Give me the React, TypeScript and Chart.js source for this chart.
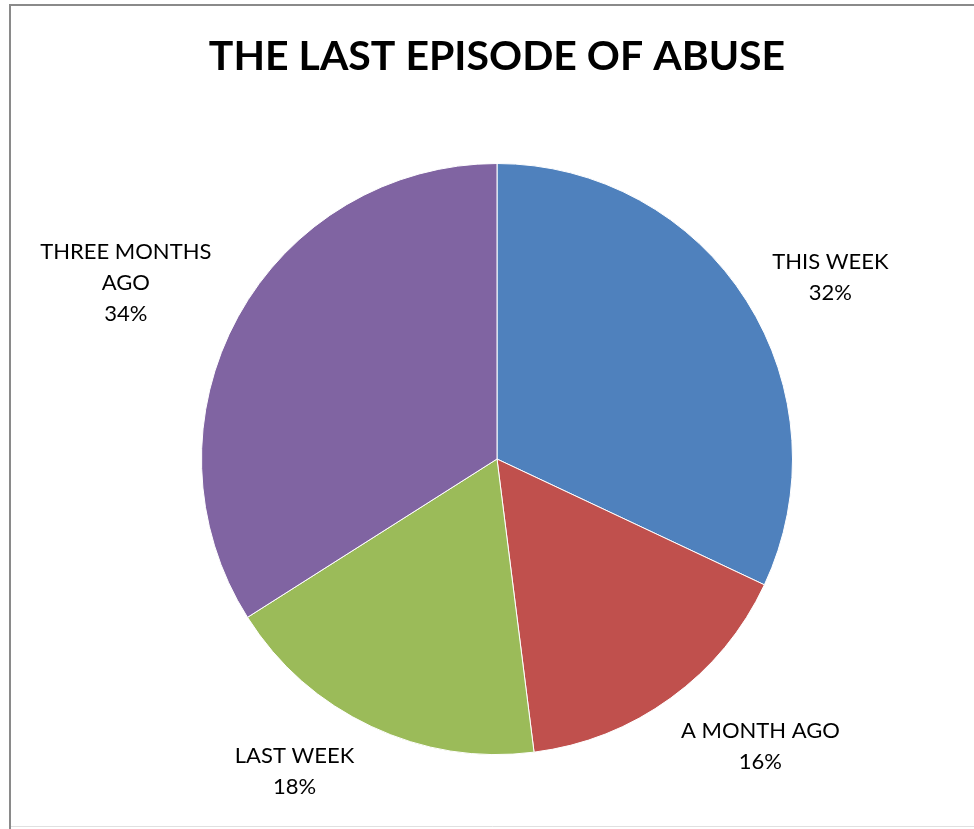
import React, { useEffect, useRef } from "react";
import { Chart, registerables } from "chart.js";

Chart.register(...registerables);

const TITLE = "THE LAST EPISODE OF ABUSE";
const categories = ["THIS WEEK", "A MONTH AGO", "LAST WEEK", "THREE MONTHS AGO"];
const labelLines = [["THIS WEEK"], ["A MONTH AGO"], ["LAST WEEK"], ["THREE MONTHS", "AGO"]];
const values = [32, 16, 18, 34];
const colors = ["#4F81BD", "#C0504D", "#9BBB59", "#8064A2"];

const FONT = "Lato, 'Open Sans', sans-serif";

const framePlugin = {
  id: "frame",
  beforeDraw(chart: any) {
    const ctx = chart.ctx;
    const w = chart.width;
    const h = chart.height;
    ctx.save();
    ctx.fillStyle = "#ffffff";
    ctx.fillRect(0, 0, w, h);
    ctx.strokeStyle = "#8a8a8a";
    ctx.lineWidth = 2;
    ctx.beginPath();
    ctx.moveTo(10, h);
    ctx.lineTo(10, 5);
    ctx.lineTo(w, 5);
    ctx.stroke();
    ctx.strokeStyle = "#e0e0e0";
    ctx.lineWidth = 1;
    ctx.beginPath();
    ctx.moveTo(11, 826.5);
    ctx.lineTo(w, 826.5);
    ctx.stroke();
    ctx.restore();
  },
  afterDraw(chart: any) {
    const ctx = chart.ctx;
    const meta = chart.getDatasetMeta(0);
    const area = chart.chartArea;
    const cx = (area.left + area.right) / 2;
    // Title
    ctx.save();
    ctx.fillStyle = "#000000";
    ctx.textAlign = "center";
    ctx.textBaseline = "alphabetic";
    ctx.font = `bold 41px ${FONT}`;
    ctx.fillText(TITLE, cx, 70);
    ctx.restore();

    // Data labels (best-fit outside, pulled toward the horizontal)
    const total = values.reduce((a, b) => a + b, 0);
    const lineH = 31;
    const gap = 18;
    const pull = 0.88;
    ctx.save();
    ctx.font = `22px ${FONT}`;
    ctx.fillStyle = "#000000";
    ctx.textAlign = "center";
    ctx.textBaseline = "middle";
    meta.data.forEach((arc: any, i: number) => {
      const { x, y, startAngle, endAngle, outerRadius } = arc.getProps(
        ["x", "y", "startAngle", "endAngle", "outerRadius"],
        true
      );
      let mid = (startAngle + endAngle) / 2;
      // normalise to [-PI/2, 3PI/2): horizontal at 0 (right) and PI (left)
      const horiz = Math.cos(mid) >= 0 ? 0 : Math.PI;
      let delta = mid - horiz;
      while (delta > Math.PI) delta -= 2 * Math.PI;
      while (delta < -Math.PI) delta += 2 * Math.PI;
      mid = horiz + delta * pull;
      const ux = Math.cos(mid);
      const uy = Math.sin(mid);
      const lines = [...labelLines[i], `${Math.round((values[i] / total) * 100)}%`];
      const bw = Math.max(...lines.map((l) => ctx.measureText(l).width));
      const bh = lines.length * lineH;
      const support = (bw / 2) * Math.abs(ux) + (bh / 2) * Math.abs(uy);
      const d = outerRadius + gap + support;
      const lx = x + ux * d;
      const ly = y + uy * d;
      lines.forEach((l, k) => {
        ctx.fillText(l, lx, ly - bh / 2 + lineH / 2 + k * lineH);
      });
    });
    ctx.restore();
  },
};

export default function App() {
  const ref = useRef<HTMLCanvasElement | null>(null);
  useEffect(() => {
    if (!ref.current) return;
    const chart = new Chart(ref.current, {
      type: "pie",
      data: {
        labels: categories,
        datasets: [
          {
            data: values,
            backgroundColor: colors,
            borderColor: "#ffffff",
            borderWidth: 1,
          },
        ],
      },
      options: {
        responsive: false,
        animation: false,
        layout: { padding: { left: 201, right: 181, top: 163, bottom: 74 } },
        plugins: {
          legend: { display: false },
          title: { display: false },
          tooltip: { enabled: false },
        },
      },
      plugins: [framePlugin],
    });
    return () => chart.destroy();
  }, []);
  return (
    <div style={{ position: "absolute", left: 0, top: 0, width: 974, height: 829 }}>
      <canvas ref={ref} width={974} height={829} style={{ display: "block" }} />
    </div>
  );
}
